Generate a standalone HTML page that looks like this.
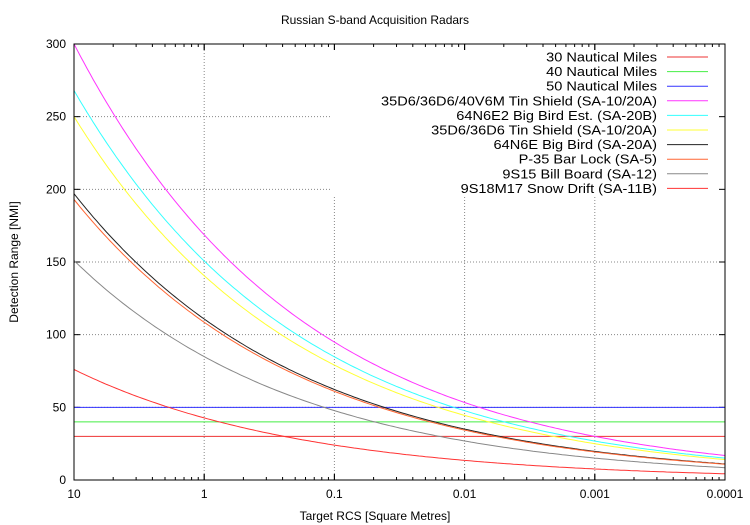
<!DOCTYPE html>
<html><head><meta charset="utf-8"><style>
html,body{margin:0;padding:0;background:#fff;}
svg{display:block;font-family:"Liberation Sans","DejaVu Sans",sans-serif;}
</style></head><body>
<svg id="s" width="750" height="525" xmlns="http://www.w3.org/2000/svg"></svg>
<script>
const s=document.getElementById('s');
const L=74,R=725,T=44,B=480;
const X=v=>L+(1-Math.log10(v))*(R-L)/5;
const Y=v=>B-v*(B-T)/300;
let h='';
h+='<text x="375" y="24" font-size="12" text-anchor="middle">Russian S-band Acquisition Radars</text>';
for(let d=0;d<=5;d++){const x=L+d*(R-L)/5; if(d>0&&d<5)h+=`<line x1="${x}" y1="${T}" x2="${x}" y2="${B}" stroke="#888" stroke-dasharray="1,2"/>`;}
for(let v=50;v<300;v+=50){h+=`<line x1="${L}" y1="${Y(v)}" x2="${R}" y2="${Y(v)}" stroke="#888" stroke-dasharray="1,2"/>`;}
h+=`<rect x="330" y="46" width="393" height="150" fill="#fff"/>`;
for(let d=0;d<5;d++){for(let m=1;m<=10;m++){const v=Math.pow(10,1-d)/m;const x=X(v);const len=(m==1||m==10)?6:3;
h+=`<line x1="${x}" y1="${B}" x2="${x}" y2="${B-len}" stroke="#000"/><line x1="${x}" y1="${T}" x2="${x}" y2="${T+len}" stroke="#000"/>`;}}
const xl=['10','1','0.1','0.01','0.001','0.0001'];
xl.forEach((t,i)=>{h+=`<text x="${L+i*(R-L)/5}" y="498" font-size="12" text-anchor="middle">${t}</text>`;});
for(let v=0;v<=300;v+=50){h+=`<line x1="${L}" y1="${Y(v)}" x2="${L+6}" y2="${Y(v)}" stroke="#000"/><line x1="${R}" y1="${Y(v)}" x2="${R-6}" y2="${Y(v)}" stroke="#000"/>`;
h+=`<text x="${L-8}" y="${Y(v)+4}" font-size="12" text-anchor="end">${v}</text>`;}
const hl=[[30,'#e33'],[40,'#4e4'],[50,'#33f']];
hl.forEach(([v,c])=>{h+=`<line x1="${L}" y1="${Y(v)}" x2="${R}" y2="${Y(v)}" stroke="${c}"/>`;});
const cv=[[300,'#f3f'],[268,'#3ff'],[250,'#ff3'],[197,'#222'],[193,'#f63'],[151,'#888'],[76,'#f33']];
cv.forEach(([r0,c])=>{let p='';for(let i=0;i<=200;i++){const lg=1-5*i/200;const v=r0*Math.pow(10,(lg-1)/4);p+=(i?'L':'M')+(L+i*(R-L)/200).toFixed(1)+','+Y(v).toFixed(1);}h+=`<path d="${p}" fill="none" stroke="${c}" stroke-width="1"/>`;});
const lg=[['30 Nautical Miles','#e33'],['40 Nautical Miles','#4e4'],['50 Nautical Miles','#33f'],['35D6/36D6/40V6M Tin Shield (SA-10/20A)','#f3f'],['64N6E2 Big Bird Est. (SA-20B)','#3ff'],['35D6/36D6 Tin Shield (SA-10/20A)','#ff3'],['64N6E Big Bird (SA-20A)','#222'],['P-35 Bar Lock (SA-5)','#f63'],['9S15 Bill Board (SA-12)','#888'],['9S18M17 Snow Drift (SA-11B)','#f33']];
lg.forEach(([t,c],i)=>{const y=57+i*14.6;h+=`<text class="lg" x="657" y="${y+4.5}" font-size="13" text-anchor="end">${t}</text><line x1="667" y1="${y}" x2="708" y2="${y}" stroke="${c}"/>`;});
h+=`<rect x="${L}" y="${T}" width="${R-L}" height="${B-T}" fill="none" stroke="#000"/>`;
h+='<text x="375" y="520" font-size="12" text-anchor="middle">Target RCS [Square Metres]</text>';
h+='<text transform="translate(18,262) rotate(-90)" font-size="12" text-anchor="middle">Detection Range [NMI]</text>';
s.innerHTML=h;
document.querySelectorAll('.lg').forEach(e=>{const w=e.getComputedTextLength();if(w>0){e.setAttribute('textLength',(w*1.12).toFixed(1));e.setAttribute('lengthAdjust','spacingAndGlyphs');}});
</script>
</body></html>
